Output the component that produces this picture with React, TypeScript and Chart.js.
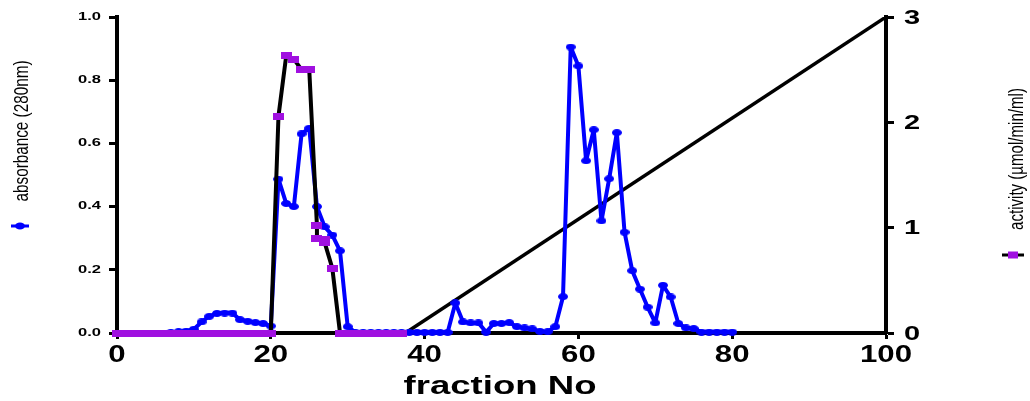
import React, { useEffect, useRef } from 'react';
import { Chart, registerables } from 'chart.js';

Chart.register(...registerables);

// ---------- data ----------
const absFractions = [
  0, 1, 2, 3, 4, 5, 6, 7, 8, 9, 10, 11, 12, 13, 14, 15, 16, 17, 18, 19, 20,
  21, 22, 23, 24, 25, 26, 27, 28, 29, 30, 31, 32, 33, 34, 35, 36, 37, 38, 39, 40,
  41, 42, 43, 44, 45, 46, 47, 48, 49, 50, 51, 52, 53, 54, 55, 56, 57, 58, 59, 60,
  61, 62, 63, 64, 65, 66, 67, 68, 69, 70, 71, 72, 73, 74, 75, 76, 77, 78, 79, 80,
];
const absorbance = [
  0, 0, 0, 0, 0, 0, 0, 0.002, 0.004, 0.006, 0.012, 0.035, 0.053, 0.062, 0.063, 0.063, 0.042, 0.037, 0.033, 0.03, 0.022,
  0.487, 0.41, 0.4, 0.63, 0.648, 0.4, 0.336, 0.31, 0.26, 0.02, 0.002, 0.002, 0.002, 0.002, 0.002, 0.002, 0.002, 0.002, 0.002, 0.002,
  0.002, 0.002, 0.002, 0.095, 0.035, 0.032, 0.032, 0.003, 0.03, 0.03, 0.033, 0.02, 0.016, 0.013, 0.005, 0.004, 0.02, 0.115, 0.905, 0.845,
  0.545, 0.643, 0.355, 0.488, 0.634, 0.319, 0.197, 0.139, 0.082, 0.032, 0.151, 0.114, 0.03, 0.016, 0.014, 0.003, 0.003, 0.003, 0.003, 0.003,
];

const activityFractions = [
  0, 1, 2, 3, 4, 5, 6, 7, 8, 9, 10, 11, 12, 13, 14, 15, 16, 17, 18, 19, 20,
  21, 22, 23, 24, 25, 26, 26, 27, 27, 28,
  29, 30, 31, 32, 33, 34, 35, 36, 37,
];
const activity = [
  0, 0, 0, 0, 0, 0, 0, 0, 0, 0, 0, 0, 0, 0, 0, 0, 0, 0, 0, 0, 0,
  2.06, 2.63, 2.6, 2.5, 2.5, 1.02, 0.9, 0.89, 0.86, 0.615,
  0, 0, 0, 0, 0, 0, 0, 0, 0,
];

const gradientFractions = [37.5, 100];
const gradientValues = [0, 3];

const xTicks = [0, 20, 40, 60, 80, 100];
const yLeftTicks = [0, 0.2, 0.4, 0.6, 0.8, 1.0];
const yRightTicks = [0, 1, 2, 3];

const xTitle = 'fraction No';
const leftTitle = 'absorbance (280nm)';
const rightTitle = 'activity (µmol/min/ml)';

const BLUE = '#0000ff';
const PURPLE = '#a010e0';
const FONT = "'Liberation Sans', Arial, sans-serif";

function makeEllipse(w: number, h: number, color: string) {
  const c = document.createElement('canvas');
  c.width = w;
  c.height = h;
  const g = c.getContext('2d')!;
  g.fillStyle = color;
  g.beginPath();
  g.ellipse(w / 2, h / 2, w / 2, h / 2, 0, 0, Math.PI * 2);
  g.fill();
  return c;
}

function makeRect(w: number, h: number, color: string) {
  const c = document.createElement('canvas');
  c.width = w;
  c.height = h;
  const g = c.getContext('2d')!;
  g.fillStyle = color;
  g.fillRect(0, 0, w, h);
  return c;
}

const textPlugin = {
  id: 'customTexts',
  afterDraw(chart: any) {
    const ctx: CanvasRenderingContext2D = chart.ctx;
    const xs = chart.scales.x;
    const yl = chart.scales.y;
    const yr = chart.scales.y2;

    const stretched = (text: string, x: number, y: number, font: string, sx: number, align: CanvasTextAlign) => {
      ctx.save();
      ctx.font = font;
      ctx.fillStyle = '#000';
      ctx.textBaseline = 'middle';
      ctx.textAlign = align;
      ctx.translate(x, y);
      ctx.scale(sx, 1);
      ctx.fillText(text, 0, 0);
      ctx.restore();
    };

    yLeftTicks.forEach((v) => {
      stretched(v.toFixed(1), 101, yl.getPixelForValue(v), `bold 10px ${FONT}`, 1.65, 'right');
    });
    yRightTicks.forEach((v) => {
      stretched(String(v), 904, yr.getPixelForValue(v) + 1, `bold 20px ${FONT}`, 1.45, 'left');
    });
    xTicks.forEach((v) => {
      stretched(String(v), xs.getPixelForValue(v), 355, `bold 24px ${FONT}`, 1.3, 'center');
    });

    // x title fitted to width
    ctx.save();
    ctx.font = `bold 26px ${FONT}`;
    const wT = ctx.measureText(xTitle).width;
    ctx.restore();
    stretched(xTitle, 500, 387, `bold 26px ${FONT}`, 193 / wT, 'center');

    const rotated = (text: string, cx: number, cy: number, len: number) => {
      ctx.save();
      ctx.font = `15px ${FONT}`;
      ctx.fillStyle = '#000';
      ctx.textBaseline = 'middle';
      ctx.textAlign = 'center';
      const w = ctx.measureText(text).width;
      ctx.translate(cx, cy);
      ctx.rotate(-Math.PI / 2);
      ctx.scale(len / w, 1.35);
      ctx.fillText(text, 0, 0);
      ctx.restore();
    };
    rotated(leftTitle, 22, 131, 141);
    rotated(rightTitle, 1017, 159, 142);

    // legend markers
    ctx.save();
    ctx.strokeStyle = BLUE;
    ctx.lineWidth = 3;
    ctx.beginPath();
    ctx.moveTo(11, 226);
    ctx.lineTo(29, 226);
    ctx.stroke();
    ctx.fillStyle = BLUE;
    ctx.beginPath();
    ctx.ellipse(20, 226, 5, 3.5, 0, 0, Math.PI * 2);
    ctx.fill();

    ctx.strokeStyle = '#000';
    ctx.beginPath();
    ctx.moveTo(1002, 255);
    ctx.lineTo(1024, 255);
    ctx.stroke();
    ctx.fillStyle = PURPLE;
    ctx.fillRect(1008, 251.5, 10, 7);
    ctx.restore();
  },
};

export default function App() {
  const ref = useRef<HTMLCanvasElement | null>(null);

  useEffect(() => {
    if (!ref.current) return;
    const ell = makeEllipse(10, 7, BLUE);
    const rect = makeRect(11, 7, PURPLE);

    const absData = absFractions.map((f, i) => ({ x: f, y: absorbance[i] }));
    const actData = activityFractions.map((f, i) => ({ x: f, y: activity[i] }));
    const gradData = gradientFractions.map((f, i) => ({ x: f, y: gradientValues[i] }));

    const axisCommon = {
      grid: {
        display: true,
        drawOnChartArea: false,
        drawTicks: true,
        tickLength: 8,
        tickWidth: 3,
        tickColor: '#000',
        color: '#000',
      },
      border: { display: true, color: '#000', width: 4 },
    };

    const chart = new Chart(ref.current, {
      type: 'line',
      data: {
        datasets: [
          {
            label: 'activity',
            data: actData,
            yAxisID: 'y2',
            borderColor: '#000',
            backgroundColor: PURPLE,
            borderWidth: 4,
            borderJoinStyle: 'round',
            borderCapStyle: 'round',
            pointStyle: rect as any,
            pointRadius: 5,
            tension: 0,
            order: 0,
            clip: false as any,
          },
          {
            label: 'absorbance',
            data: absData,
            yAxisID: 'y',
            borderColor: BLUE,
            backgroundColor: BLUE,
            borderWidth: 4,
            borderJoinStyle: 'round',
            borderCapStyle: 'round',
            pointStyle: ell as any,
            pointRadius: 5,
            tension: 0,
            order: 1,
            clip: false as any,
          },
          {
            label: 'gradient',
            data: gradData,
            yAxisID: 'y2',
            borderColor: '#000',
            borderWidth: 3.5,
            pointRadius: 0,
            tension: 0,
            order: 2,
          },
        ],
      },
      options: {
        responsive: false,
        animation: false,
        layout: { padding: { top: 17, left: 0, right: 0, bottom: 0 } },
        plugins: { legend: { display: false }, tooltip: { enabled: false } },
        scales: {
          x: {
            type: 'linear',
            min: 0,
            max: 100,
            ticks: { stepSize: 20, display: false },
            ...axisCommon,
            grid: { ...axisCommon.grid, tickLength: 6 },
            afterFit: (s: any) => {
              s.height = 68;
            },
          },
          y: {
            type: 'linear',
            position: 'left',
            min: 0,
            max: 1,
            ticks: { stepSize: 0.2, display: false },
            ...axisCommon,
            afterFit: (s: any) => {
              s.width = 117;
            },
          },
          y2: {
            type: 'linear',
            position: 'right',
            min: 0,
            max: 3,
            ticks: { stepSize: 1, display: false },
            ...axisCommon,
            afterFit: (s: any) => {
              s.width = 144;
            },
          },
        },
      } as any,
      plugins: [textPlugin as any],
    });
    return () => chart.destroy();
  }, []);

  return (
    <div style={{ position: 'fixed', left: 0, top: 0, width: 1030, height: 401, background: '#fff' }}>
      <canvas ref={ref} width={1030} height={401} style={{ display: 'block', width: 1030, height: 401 }} />
    </div>
  );
}
